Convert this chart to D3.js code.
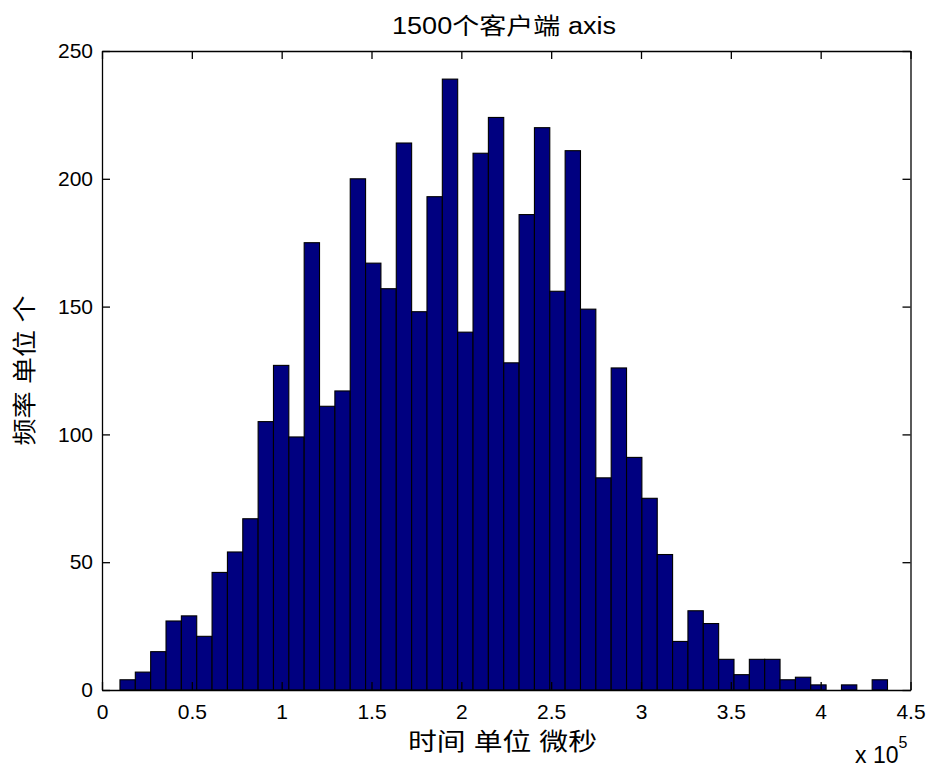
<!DOCTYPE html>
<html>
<head>
<meta charset="utf-8">
<script src="https://cdn.jsdelivr.net/npm/d3@7"></script>
<style>
  body { margin: 0; background: #fff; }
  text { font-family: "Liberation Sans", Arial, "Noto Sans CJK SC", sans-serif; fill: #000; }
</style>
</head>
<body>
<svg id="chart" width="931" height="772"></svg>
<script>
// ---- data ----
const counts = [4, 7, 15, 27, 29, 21, 46, 54, 67, 105,
                127, 99, 175, 111, 117, 200, 167, 157, 214, 148,
                193, 239, 140, 210, 224, 128, 186, 220, 156, 211,
                149, 83, 126, 91, 75, 53, 19, 31, 26, 12,
                6, 12, 12, 4, 5, 2, 0, 2, 0, 4];
const binRange = [0.1, 4.372];          // x 10^5
const xTicks = [0, 0.5, 1, 1.5, 2, 2.5, 3, 3.5, 4, 4.5];
const yTicks = [0, 50, 100, 150, 200, 250];
const titleText = "1500个客户端 axis";
const xLabel = "时间 单位 微秒";
const yLabel = "频率 单位 个";

// ---- layout ----
const svg = d3.select("#chart");
const m = { left: 102, right: 910.5, top: 51, bottom: 690 };
const x = d3.scaleLinear().domain([0, 4.5]).range([m.left, m.right]);
const y = d3.scaleLinear().domain([0, 250]).range([m.bottom, m.top]);

const nb = counts.length;
const bw = (binRange[1] - binRange[0]) / nb;
const bins = counts.map((c, i) => ({ x0: binRange[0] + i * bw, x1: binRange[0] + (i + 1) * bw, c }));

svg.append("g").selectAll("rect")
  .data(bins.filter(d => d.c > 0))
  .join("rect")
  .attr("x", d => x(d.x0))
  .attr("width", d => x(d.x1) - x(d.x0))
  .attr("y", d => y(d.c))
  .attr("height", d => y(0) - y(d.c))
  .attr("fill", "#000080")
  .attr("stroke", "#000")
  .attr("stroke-width", 1.1);

// axes (inward ticks, box)
const fmt = d => String(d);
const gB = svg.append("g").attr("transform", `translate(0,${m.bottom})`)
  .call(d3.axisBottom(x).tickValues(xTicks).tickFormat(fmt).tickSizeInner(-8).tickSizeOuter(0).tickPadding(14));
const gT = svg.append("g").attr("transform", `translate(0,${m.top})`)
  .call(d3.axisTop(x).tickValues(xTicks).tickFormat("").tickSizeInner(-8).tickSizeOuter(0));
const gL = svg.append("g").attr("transform", `translate(${m.left},0)`)
  .call(d3.axisLeft(y).tickValues(yTicks).tickFormat(fmt).tickSizeInner(-8).tickSizeOuter(0).tickPadding(9));
const gR = svg.append("g").attr("transform", `translate(${m.right},0)`)
  .call(d3.axisRight(y).tickValues(yTicks).tickFormat("").tickSizeInner(-8).tickSizeOuter(0));

[gB, gT, gL, gR].forEach(g => {
  g.selectAll("path").attr("stroke", "#000").attr("stroke-width", 1.3);
  g.selectAll("line").attr("stroke", "#000").attr("stroke-width", 1.3);
  g.selectAll("text").attr("font-size", 21).attr("fill", "#000")
    .style("font-family", '"Liberation Sans", Arial, sans-serif');
});

// title
svg.append("text")
  .attr("x", 504).attr("y", 34)
  .attr("text-anchor", "middle")
  .attr("font-size", 23)
  .attr("textLength", 224).attr("lengthAdjust", "spacingAndGlyphs")
  .text(titleText);

// x label
svg.append("text")
  .attr("x", 502.5).attr("y", 750)
  .attr("text-anchor", "middle")
  .attr("font-size", 24)
  .attr("textLength", 189).attr("lengthAdjust", "spacingAndGlyphs")
  .text(xLabel);

// y label
svg.append("text")
  .attr("transform", `translate(33,${(m.top + m.bottom) / 2}) rotate(-90)`)
  .attr("text-anchor", "middle")
  .attr("font-size", 24)
  .attr("textLength", 150).attr("lengthAdjust", "spacingAndGlyphs")
  .text(yLabel);

// exponent
const ex = svg.append("text").attr("x", 855).attr("y", 763).attr("font-size", 23);
ex.append("tspan").text("x 10");
ex.append("tspan").attr("dy", -15).attr("font-size", 16).text("5");
</script>
</body>
</html>
